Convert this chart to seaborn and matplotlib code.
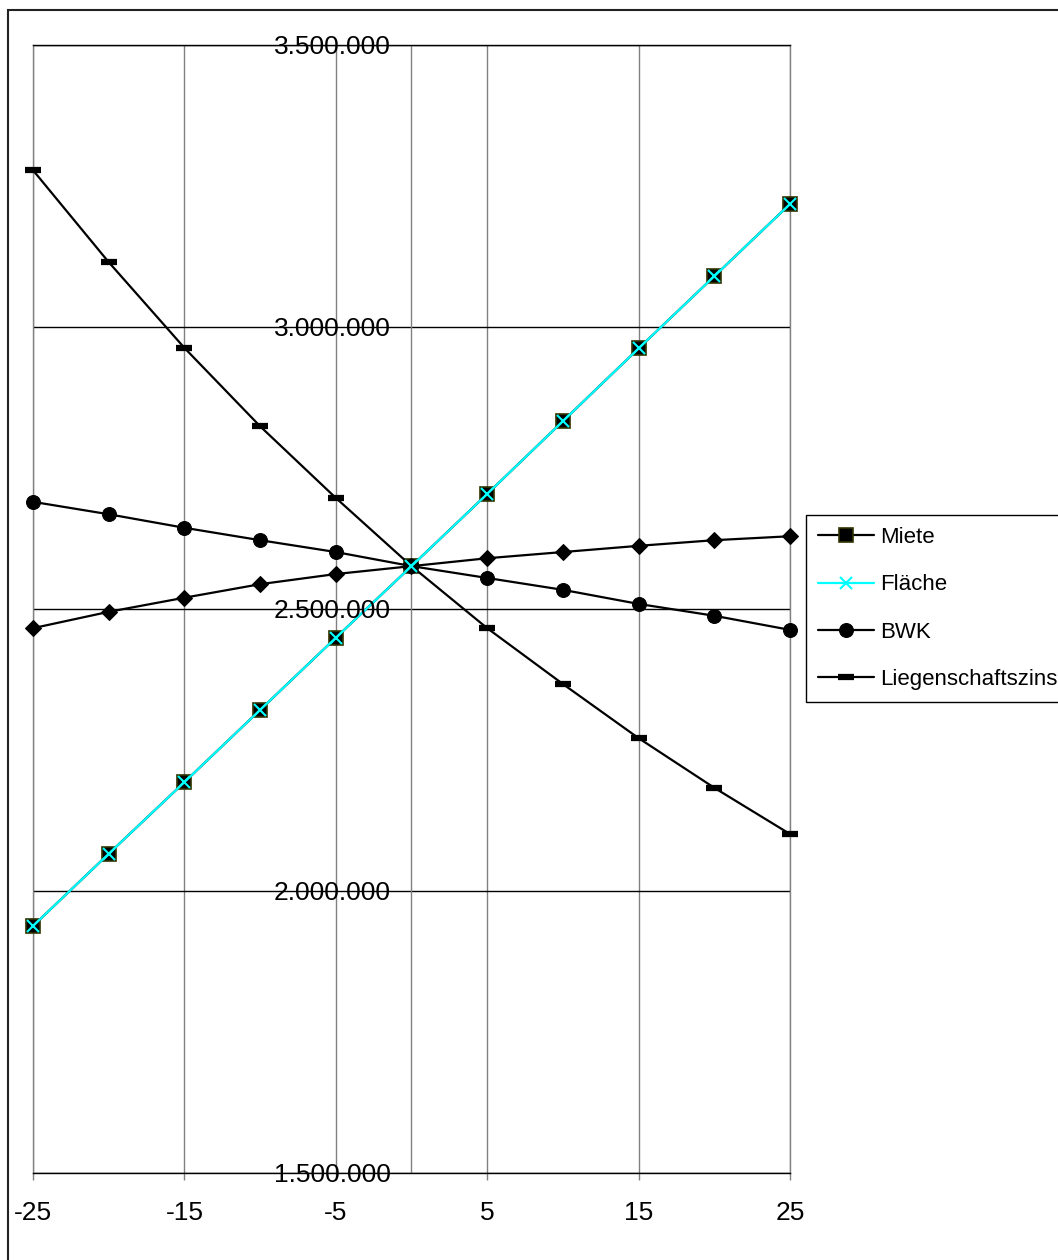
import matplotlib
import matplotlib.pyplot as plt
import matplotlib.patches as patches
import pandas as pd
import seaborn as sns

matplotlib.use("Agg")

# Abweichung in %
abweichung = [-25, -20, -15, -10, -5, 0, 5, 10, 15, 20, 25]

# Werte je Parameter
miete = [1938000, 2066000, 2193000, 2321000, 2449000, 2576000, 2704000, 2833000, 2962000, 3090000, 3218000]
flaeche = [1938000, 2066000, 2193000, 2321000, 2449000, 2576000, 2704000, 2833000, 2962000, 3090000, 3218000]
bwk = [2690000, 2668000, 2644000, 2622000, 2601000, 2576000, 2555000, 2534000, 2509000, 2488000, 2463000]
ohne_legende = [2466000, 2495000, 2520000, 2544000, 2562000, 2576000, 2590000, 2601000, 2612000, 2622000, 2629000]
liegenschaftszins = [3278000, 3115000, 2963000, 2824000, 2697000, 2576000, 2466000, 2367000, 2271000, 2183000, 2101000]

x_ticks = [-25, -15, -5, 5, 15, 25]
y_ticks = [1500000, 2000000, 2500000, 3000000, 3500000]

df = pd.DataFrame({
    "x": abweichung,
    "Miete": miete,
    "Fläche": flaeche,
    "BWK": bwk,
    "Rauten": ohne_legende,
    "Liegenschaftszins": liegenschaftszins,
})

sns.set_style("white")
plt.rcParams["font.family"] = ["Liberation Sans", "DejaVu Sans"]
plt.rcParams["text.color"] = "black"
plt.rcParams["xtick.labelcolor"] = "black"

fig = plt.figure(figsize=(10.58, 12.6), dpi=100)
ax = fig.add_axes([33 / 1058, 1 - 1173 / 1260, (790 - 33) / 1058, (1173 - 45) / 1260])

# Linien
sns.lineplot(data=df, x="x", y="Miete", ax=ax, color="black", lw=1.6, label="Miete",
             marker="s", markersize=9.5, markerfacecolor="black", markeredgecolor="#333300",
             markeredgewidth=1.2, clip_on=False, zorder=3)
sns.lineplot(data=df, x="x", y="Rauten", ax=ax, color="black", lw=1.6,
             marker="D", markersize=8, markerfacecolor="black", markeredgecolor="black",
             clip_on=False, zorder=3)
sns.lineplot(data=df, x="x", y="BWK", ax=ax, color="black", lw=1.6, label="BWK",
             marker="o", markersize=10, markerfacecolor="black", markeredgecolor="black",
             clip_on=False, zorder=3)
sns.lineplot(data=df, x="x", y="Liegenschaftszins", ax=ax, color="black", lw=1.6,
             label="Liegenschaftszins", marker="_", markersize=11, markeredgewidth=4.5,
             markeredgecolor="black", clip_on=False, zorder=3)
sns.lineplot(data=df, x="x", y="Fläche", ax=ax, color="cyan", lw=1.6, label="Fläche",
             marker="x", markersize=9, markeredgewidth=1.5, markeredgecolor="cyan",
             clip_on=False, zorder=4)

ax.set_xlim(-25, 25)
ax.set_ylim(1500000, 3500000)
ax.set_xticks(x_ticks)
ax.set_xticklabels([str(t) for t in x_ticks])
ax.set_yticks(y_ticks)
ax.set_yticklabels([])
ax.set_xlabel("")
ax.set_ylabel("")

# Gitter: vertikal grau, horizontal schwarz
ax.grid(axis="x", color="#808080", lw=1)
ax.grid(axis="y", color="black", lw=1)
ax.axvline(0, color="#808080", lw=1, zorder=1)
ax.spines["left"].set_color("#808080")
ax.spines["right"].set_color("#808080")
ax.spines["top"].set_color("black")
ax.spines["bottom"].set_color("black")
for s in ax.spines.values():
    s.set_linewidth(1)

ax.tick_params(axis="x", direction="out", length=5, width=1, color="#808080",
               labelsize=19, labelcolor="black", pad=15, bottom=True)
ax.tick_params(axis="y", length=0)

# y-Beschriftung an der Achse bei x=0
for v in y_ticks:
    ax.annotate(f"{v:,.0f}".replace(",", "."), xy=(0, v), xytext=(-15, -1.5),
                textcoords="offset points", ha="right", va="center", fontsize=19,
                color="black", zorder=5, annotation_clip=False)

# Legende
handles, labels = ax.get_legend_handles_labels()
order = ["Miete", "Fläche", "BWK", "Liegenschaftszins"]
hl = dict(zip(labels, handles))
leg = fig.legend([hl[k] for k in order], order, loc="upper left",
                 bbox_to_anchor=(806 / 1058, 1 - 515 / 1260), fontsize=16,
                 frameon=True, fancybox=False, edgecolor="black", framealpha=1,
                 handlelength=2.5, handletextpad=0.3, borderpad=0.55, labelspacing=1.18,
                 borderaxespad=0)
leg.get_frame().set_linewidth(1)
for t in leg.get_texts():
    t.set_color("black")
if ax.get_legend() is not None:
    ax.get_legend().remove()

# Rahmen um das Diagramm
fig.patches.append(patches.Rectangle((8 / 1058, -0.05), 1.1, 1 - 10 / 1260 + 0.05,
                                     transform=fig.transFigure, fill=False,
                                     edgecolor="#222222", lw=1.5, clip_on=False))

fig.savefig("out.png", dpi=100)
plt.close(fig)
